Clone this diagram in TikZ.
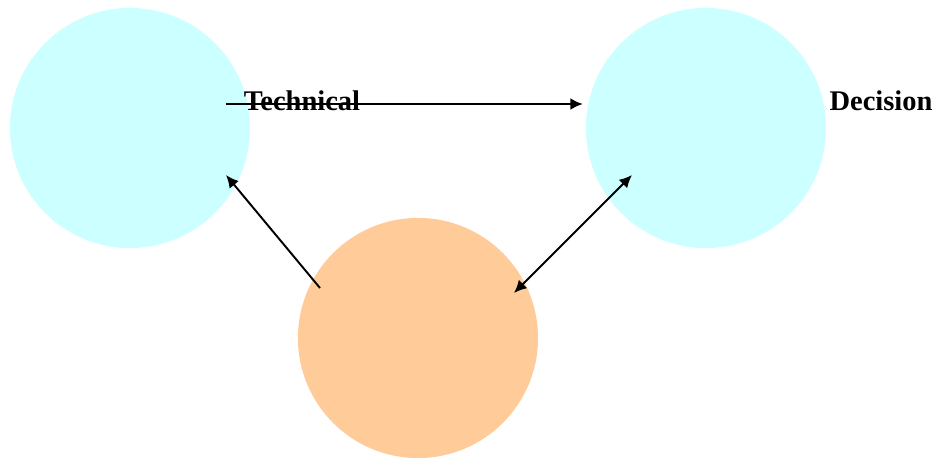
\documentclass[tikz,border=0pt]{standalone}
\usepackage{fontspec}
\setmainfont{Liberation Serif}
\usetikzlibrary{arrows.meta}
\definecolor{lightcyan}{HTML}{CCFFFF}
\definecolor{lightorange}{HTML}{FFCC99}
\begin{document}
\begin{tikzpicture}
[
    x=0.01cm, y=-0.01cm,
    blob/.style={circle, minimum size=2.4cm, inner sep=0pt},
    label text/.style={font=\fontsize{8.1}{10}\selectfont\bfseries, inner sep=0pt},
    link/.style={draw=black, line width=0.55pt, -{Latex[length=3.6pt, width=3.4pt]}}
]
    \useasboundingbox (0,0) rectangle (938,460);

    \node [blob, fill=lightcyan] (technical) at (130,128) {};
    \node [blob, fill=lightcyan] (decision) at (706,128) {};
    \node [blob, fill=lightorange] (stake) at (418,338) {};

    \coordinate (techout) at ([shift={(96,-24)}]technical.center);
    \coordinate (decin) at ([shift={(-123,-24)}]decision.center);
    \coordinate (techin) at ([shift={(96,47)}]technical.center);
    \coordinate (decend) at ([shift={(-74,47)}]decision.center);
    \coordinate (stakeleft) at ([shift={(-98,-50)}]stake.center);
    \coordinate (stakeright) at ([shift={(96,-45)}]stake.center);

    \draw [link, line width=0.7pt] (techout) -- (decin);
    \draw [link] (stakeleft) -- (techin);
    \draw [link, {Latex[length=3.6pt, width=3.4pt]}-{Latex[length=3.6pt, width=3.4pt]}] (stakeright) -- (decend);

    \node [label text] (techlabel) at (302,101) {Technical};
    \node [label text] (declabel) at (881,101) {Decision};
\end{tikzpicture}
\end{document}
